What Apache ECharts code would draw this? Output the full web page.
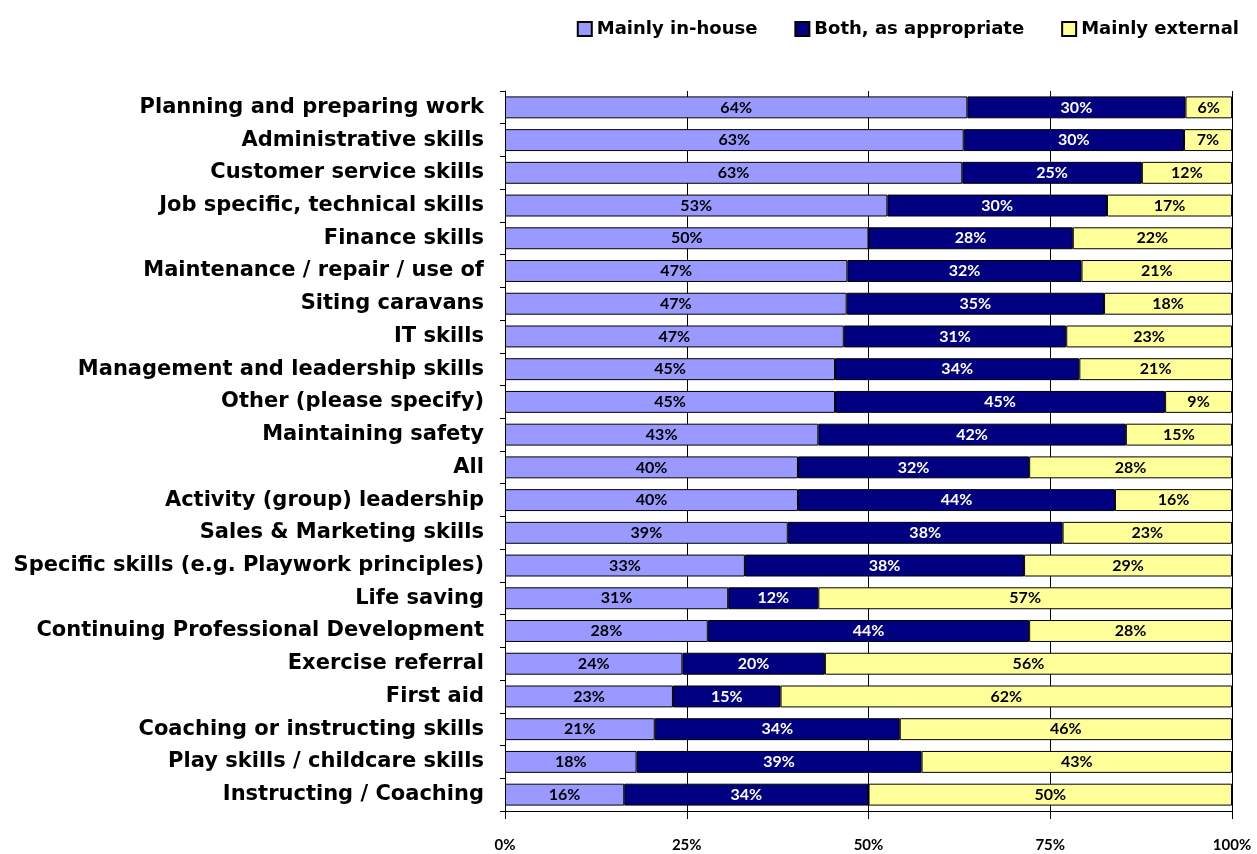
<!DOCTYPE html>
<html><head><meta charset="utf-8">
<script src="https://cdn.jsdelivr.net/npm/echarts@6/dist/echarts.min.js"></script>
<style>html,body{margin:0;padding:0;background:#fff}#c{width:1257px;height:854px}</style>
</head><body><div id="c"></div>
<script>
const categories = [
  "Planning and preparing work","Administrative skills","Customer service skills",
  "Job specific, technical skills","Finance skills","Maintenance / repair / use of",
  "Siting caravans","IT skills","Management and leadership skills","Other (please specify)",
  "Maintaining safety","All","Activity (group) leadership","Sales & Marketing skills",
  "Specific skills (e.g. Playwork principles)","Life saving","Continuing Professional Development",
  "Exercise referral","First aid","Coaching or instructing skills","Play skills / childcare skills",
  "Instructing / Coaching"
];
const mainlyInHouse = [63.6,63.1,62.9,52.6,50.0,47.1,47.0,46.6,45.4,45.4,43.1,40.3,40.3,38.9,33.0,30.7,27.9,24.4,23.1,20.6,18.1,16.4];
const bothAsAppropriate = [30.0,30.3,24.7,30.2,28.1,32.2,35.4,30.6,33.6,45.4,42.3,31.8,43.6,37.8,38.4,12.4,44.2,19.6,14.8,33.7,39.2,33.6];
const mainlyExternal = [6.4,6.6,12.4,17.2,21.9,20.7,17.6,22.8,21.0,9.2,14.6,27.9,16.1,23.3,28.6,56.9,27.9,56.0,62.1,45.7,42.7,50.0];
const xTicks = ["0%","25%","50%","75%","100%"];

const BIG = "DejaVu Sans";
const SMALL = "Lato";
const chart = echarts.init(document.getElementById('c'), null, {renderer:'canvas'});
function mk(name, data, color, labelColor){
  return {
    name, type:'bar', stack:'total', data, barCategoryGap:'33%',
    itemStyle:{color, borderColor:'#000', borderWidth:1},
    label:{show:true, position:'inside', color:labelColor, fontFamily:SMALL, fontWeight:'bold', fontSize:16,
      formatter:p=>Math.round(p.value)+'%'},
    emphasis:{disabled:true}
  };
}
chart.setOption({
  animation:false,
  backgroundColor:'#fff',
  legend:{
    top:15, right:13, itemWidth:14, itemHeight:14, itemGap:37, icon:'rect',
    textStyle:{fontFamily:BIG, fontWeight:'bold', fontSize:18, color:'#000'},
    data:['Mainly in-house','Both, as appropriate','Mainly external']
  },
  grid:{left:505, right:25, top:91, bottom:43, containLabel:false},
  xAxis:{
    type:'value', min:0, max:100, interval:25,
    axisLine:{show:true, lineStyle:{color:'#000', width:1}},
    axisTick:{show:true, length:8, lineStyle:{color:'#000'}},
    splitLine:{show:true, lineStyle:{color:'#000', width:1}},
    axisLabel:{fontFamily:SMALL, fontWeight:'bold', fontSize:15, color:'#000', margin:27,
      formatter:(v)=>xTicks[Math.round(v/25)]}
  },
  yAxis:{
    type:'category', data:categories, inverse:true,
    axisLine:{show:true, lineStyle:{color:'#000'}},
    axisTick:{show:true, length:5, lineStyle:{color:'#000'}},
    axisLabel:{fontFamily:BIG, fontWeight:'bold', fontSize:21, color:'#000', margin:21}
  },
  series:[
    mk('Mainly in-house', mainlyInHouse, '#9999FF', '#000'),
    mk('Both, as appropriate', bothAsAppropriate, '#000080', '#fff'),
    mk('Mainly external', mainlyExternal, '#FFFF99', '#000')
  ]
});
</script></body></html>
